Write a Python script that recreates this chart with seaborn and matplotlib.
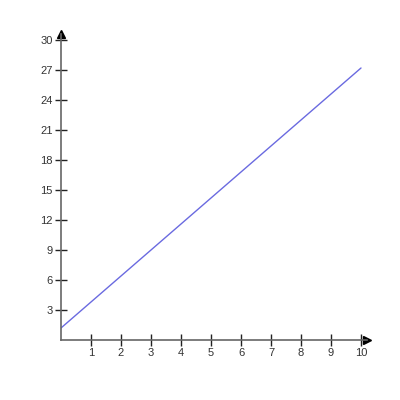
import matplotlib
matplotlib.use("Agg")
import matplotlib.pyplot as plt
import seaborn as sns
import pandas as pd

x_vals = [0, 10]
y_vals = [1.2, 27.2]
x_ticks = [1, 2, 3, 4, 5, 6, 7, 8, 9, 10]
y_ticks = [3, 6, 9, 12, 15, 18, 21, 24, 27, 30]

sns.set_style("white")
plt.rcParams['font.family'] = ['Liberation Sans', 'DejaVu Sans']

fig = plt.figure(figsize=(4, 4), dpi=100)
ax = fig.add_axes([0.1525, 0.15, 0.765, 0.765])

df = pd.DataFrame({"x": x_vals, "y": y_vals})
sns.lineplot(data=df, x="x", y="y", ax=ax, color="#6a6ae0", linewidth=1)

ax.set_xlim(0, 10.2)
ax.set_ylim(0, 30.6)
for s in ["top", "right"]:
    ax.spines[s].set_visible(False)
for s in ["left", "bottom"]:
    ax.spines[s].set_color("#666666")
    ax.spines[s].set_linewidth(1.2)

ax.set_xticks(x_ticks)
ax.set_yticks(y_ticks)
ax.set_xticklabels([str(v) for v in x_ticks])
ax.set_yticklabels([str(v) for v in y_ticks])
ax.tick_params(axis="both", bottom=True, left=True, direction="inout", length=8,
               width=1, color="#222222", labelsize=8, labelcolor="#333333", pad=2)
ax.set_xlabel("")
ax.set_ylabel("")

# arrow heads
ax.plot([10.2], [0], marker=">", color="black", markersize=6, clip_on=False)
ax.plot([0], [30.6], marker="^", color="black", markersize=6, clip_on=False)

fig.savefig("out.png", dpi=100, facecolor="white")
